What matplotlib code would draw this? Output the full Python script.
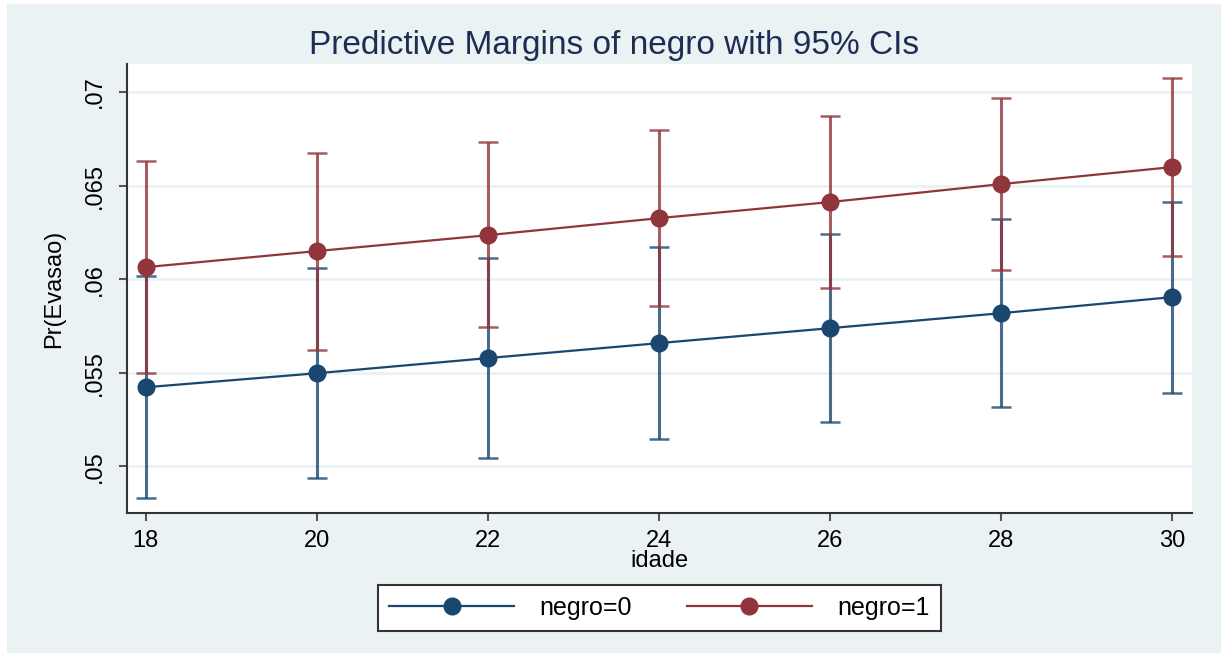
import matplotlib
matplotlib.use("Agg")
import matplotlib.pyplot as plt
from matplotlib.patches import Rectangle
import numpy as np

plt.rcParams["font.family"] = ["Liberation Sans", "DejaVu Sans"]

idade = [18, 20, 22, 24, 26, 28, 30]

margin_negro0 = [0.05422, 0.05497, 0.05578, 0.05658, 0.05738, 0.05818, 0.05904]
lower_negro0 = [0.04829, 0.04936, 0.05043, 0.05144, 0.05235, 0.05316, 0.05390]
upper_negro0 = [0.06016, 0.06059, 0.06112, 0.06171, 0.06241, 0.06321, 0.06412]

margin_negro1 = [0.06064, 0.06150, 0.06235, 0.06326, 0.06412, 0.06508, 0.06599]
lower_negro1 = [0.05497, 0.05620, 0.05743, 0.05856, 0.05952, 0.06048, 0.06123]
upper_negro1 = [0.06631, 0.06674, 0.06733, 0.06797, 0.06872, 0.06968, 0.07075]

y_ticks = [0.05, 0.055, 0.06, 0.065, 0.07]
y_ticklabels = [".05", ".055", ".06", ".065", ".07"]

BG = "#eaf2f3"
NAVY = "#1a476f"
MAROON = "#90353b"

fig = plt.figure(figsize=(12.21, 6.53), dpi=100)
fig.patch.set_facecolor("white")
# stata-style graph region, with a thin white margin left/top
fig.patches.append(Rectangle((0.006, 0.0), 0.994, 0.994, transform=fig.transFigure,
                             facecolor=BG, edgecolor="none", zorder=-10))

ax = fig.add_axes([0.104, 0.2144, 0.8722, 0.6876])
ax.set_facecolor("white")

series = [
    (margin_negro0, lower_negro0, upper_negro0, NAVY, "negro=0"),
    (margin_negro1, lower_negro1, upper_negro1, MAROON, "negro=1"),
]

x = np.array(idade, dtype=float)
handles = []
for margin, lower, upper, color, label in series:
    m = np.array(margin)
    err = np.vstack([m - np.array(lower), np.array(upper) - m])
    ax.errorbar(x, m, yerr=err, fmt="none", ecolor=color, elinewidth=2.2,
                capsize=7.5, capthick=1.8, alpha=0.8, zorder=2)

for margin, lower, upper, color, label in series:
    line, = ax.plot(x, margin, "-o", color=color, linewidth=1.6,
                    markersize=12, label=label, zorder=3)
    handles.append(line)

ax.set_xlim(17.78, 30.23)
ax.set_ylim(0.0475, 0.0715)
ax.set_xticks(idade)
ax.set_xticklabels([str(v) for v in idade], fontsize=17)
ax.set_yticks(y_ticks)
ax.set_yticklabels(y_ticklabels, fontsize=17, rotation=90, va="center")
ax.grid(axis="y", color=BG, linewidth=2)
ax.set_axisbelow(True)

for side in ("top", "right"):
    ax.spines[side].set_visible(False)
for side in ("left", "bottom"):
    ax.spines[side].set_color("#333333")
    ax.spines[side].set_linewidth(1.5)
ax.tick_params(direction="out", length=6, width=1.5, color="#555555")
ax.tick_params(axis="y", pad=9)
ax.tick_params(axis="x", pad=6)

ax.set_xlabel("idade", fontsize=17, labelpad=-1)
ax.set_ylabel("Pr(Evasao)", fontsize=17, labelpad=14)

fig.text(0.503, 0.93, "Predictive Margins of negro with 95% CIs",
         ha="center", va="center", fontsize=24, color="#1e2d53")

leg = fig.legend(handles=handles, loc="center", bbox_to_anchor=(0.54, 0.069),
                 ncol=2, fontsize=18, frameon=True, fancybox=False,
                 handlelength=5.0, columnspacing=2.2, handletextpad=1.0,
                 borderpad=0.45, facecolor="white", framealpha=1)
leg.get_frame().set_edgecolor("#333333")
leg.get_frame().set_linewidth(1.5)

fig.savefig("out.png", dpi=100, facecolor=fig.get_facecolor())
